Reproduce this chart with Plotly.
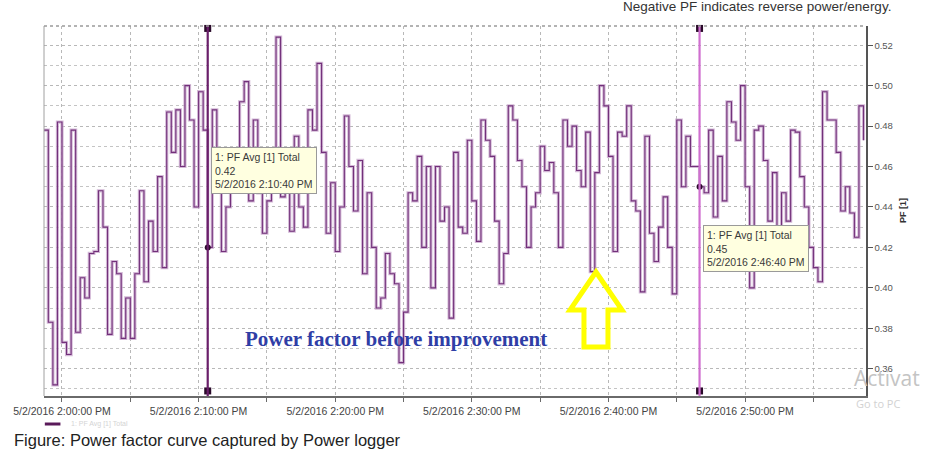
import pandas as pd
import plotly.graph_objects as go

# ---- data (PF Avg [1] Total, 20 s steps from 1:58:40 PM) ----
start_time = "2016-05-02 13:58:40"
step = "20s"
pf_values = [
    0.478, 0.383, 0.352, 0.482,
    0.373, 0.367, 0.478, 0.378, 0.405, 0.395, 0.417, 0.418, 0.448, 0.430,
    0.377, 0.413, 0.407, 0.375, 0.395, 0.375, 0.407, 0.448, 0.403, 0.433,
    0.418, 0.455, 0.410, 0.487, 0.467, 0.488, 0.460, 0.500, 0.483, 0.440,
    0.497, 0.478, 0.420, 0.488, 0.465, 0.418, 0.440, 0.457, 0.462, 0.492,
    0.502, 0.443, 0.483, 0.447, 0.427, 0.443, 0.458, 0.524, 0.445, 0.453,
    0.428, 0.475, 0.440, 0.430, 0.488, 0.478, 0.511, 0.467, 0.427, 0.452,
    0.418, 0.440, 0.485, 0.460, 0.438, 0.463, 0.407, 0.447, 0.420, 0.390,
    0.395, 0.417, 0.407, 0.402, 0.363, 0.388, 0.447, 0.443, 0.465, 0.420,
    0.460, 0.400, 0.460, 0.433, 0.440, 0.385, 0.467, 0.430, 0.427, 0.473,
    0.443, 0.423, 0.483, 0.473, 0.465, 0.433, 0.402, 0.417, 0.490, 0.483,
    0.463, 0.450, 0.420, 0.440, 0.447, 0.470, 0.458, 0.462, 0.447, 0.420,
    0.483, 0.470, 0.480, 0.458, 0.450, 0.477, 0.408, 0.457, 0.500, 0.490,
    0.465, 0.418, 0.477, 0.475, 0.490, 0.443, 0.438, 0.398, 0.475, 0.427,
    0.413, 0.430, 0.445, 0.420, 0.397, 0.483, 0.450, 0.475, 0.460, 0.460,
    0.450, 0.447, 0.478, 0.435, 0.465, 0.443, 0.492, 0.482, 0.473, 0.500,
    0.450, 0.400, 0.478, 0.480, 0.463, 0.433, 0.457, 0.427, 0.447, 0.433,
    0.478, 0.477, 0.455, 0.440, 0.420, 0.410, 0.403, 0.497, 0.483, 0.483,
    0.467, 0.438, 0.450, 0.437, 0.425, 0.490, 0.473,
]
times = pd.date_range(start_time, periods=len(pf_values), freq=step)

x_tick_vals = ["2016-05-02 14:00:00", "2016-05-02 14:05:00", "2016-05-02 14:10:00",
               "2016-05-02 14:15:00", "2016-05-02 14:20:00", "2016-05-02 14:25:00",
               "2016-05-02 14:30:00", "2016-05-02 14:35:00", "2016-05-02 14:40:00",
               "2016-05-02 14:45:00", "2016-05-02 14:50:00", "2016-05-02 14:55:00"]
x_tick_text = ["5/2/2016 2:00:00 PM", "", "5/2/2016 2:10:00 PM", "",
               "5/2/2016 2:20:00 PM", "", "5/2/2016 2:30:00 PM", "",
               "5/2/2016 2:40:00 PM", "", "5/2/2016 2:50:00 PM", ""]
y_tick_vals = [0.36, 0.38, 0.40, 0.42, 0.44, 0.46, 0.48, 0.50, 0.52]
y_tick_text = ["0.36", "0.38", "0.40", "0.42", "0.44", "0.46", "0.48", "0.50", "0.52"]

cursor_times = ["2016-05-02 14:10:40", "2016-05-02 14:46:40"]
cursor_values = [0.42, 0.45]
cursor_labels = ["1: PF Avg [1] Total<br>0.42<br>5/2/2016 2:10:40 PM",
                 "1: PF Avg [1] Total<br>0.45<br>5/2/2016 2:46:40 PM"]
cursor_box_tops = [0.4695, 0.431]
cursor_colors = ["#6a1f6a", "#cf6fcf"]

x_range = ["2016-05-02 13:58:41", "2016-05-02 14:58:51"]
y_range = [0.3465, 0.5295]

FONT = "Liberation Sans, Arial, sans-serif"

fig = go.Figure()

# soft halo + main step line
fig.add_trace(go.Scatter(x=times, y=pf_values, mode="lines",
                         line=dict(shape="hv", color="rgba(200,166,204,0.8)", width=3.2),
                         hoverinfo="skip", showlegend=False))
fig.add_trace(go.Scatter(x=times, y=pf_values, mode="lines",
                         line=dict(shape="hv", color="#72307a", width=1.1),
                         name="1: PF Avg [1] Total", showlegend=False))

shapes = []
annotations = []
for t, v, lab, top, col in zip(cursor_times, cursor_values, cursor_labels, cursor_box_tops, cursor_colors):
    shapes.append(dict(type="line", xref="x", yref="paper", x0=t, x1=t, y0=0, y1=1,
                       line=dict(color=col, width=2.2), layer="above"))
    fig.add_trace(go.Scatter(x=[t, t], y=[y_range[1] - 0.0012, y_range[0] + 0.0025], mode="markers",
                             marker=dict(symbol="square", size=7, color="#2a0a2a"),
                             cliponaxis=False, hoverinfo="skip", showlegend=False))
    fig.add_trace(go.Scatter(x=[t], y=[v], mode="markers",
                             marker=dict(symbol="circle", size=6, color="#2a0a2a"),
                             hoverinfo="skip", showlegend=False))
    annotations.append(dict(xref="x", yref="y", x=t, y=top, xanchor="left", yanchor="top",
                            xshift=3, text=lab, showarrow=False, align="left",
                            font=dict(family=FONT, size=10.5, color="#3a3a3a"),
                            bgcolor="#ffffe0", bordercolor="#9a9a9a", borderwidth=1, borderpad=3))

# plot frame pieces
shapes.append(dict(type="line", xref="paper", yref="paper", x0=0, x1=0, y0=0, y1=1,
                   line=dict(color="#a0a0a0", width=1)))
shapes.append(dict(type="line", xref="paper", yref="paper", x0=0, x1=1, y0=1, y1=1,
                   line=dict(color="#9a9a9a", width=1.5, dash="dot")))

# yellow outline arrow
shapes.append(dict(type="path", xref="paper", yref="paper",
                   path="M 0.6715 0.3351 L 0.7032 0.2324 L 0.6861 0.2324 L 0.6861 0.1324 "
                        "L 0.6569 0.1324 L 0.6569 0.2324 L 0.6399 0.2324 Z",
                   line=dict(color="#ffff00", width=5), fillcolor="rgba(0,0,0,0)", layer="above"))

# legend swatch
shapes.append(dict(type="line", xref="paper", yref="paper", x0=0.001, x1=0.02, y0=-0.0757, y1=-0.0757,
                   line=dict(color="#5a1a5a", width=3)))

annotations += [
    dict(xref="paper", yref="paper", x=0.03, y=-0.0757, xanchor="left", yanchor="middle",
         text="1: PF Avg [1] Total", showarrow=False,
         font=dict(family=FONT, size=7, color="#d4d4d4")),
    dict(xref="paper", yref="paper", x=0.428, y=0.154, xanchor="center", yanchor="middle",
         text="<b>Power factor before improvement</b>", showarrow=False,
         font=dict(family="Liberation Serif, Times New Roman, serif", size=21, color="#2f3ea6")),
    dict(xref="paper", yref="paper", x=1.0328, y=1.053, xanchor="right", yanchor="middle",
         text="Negative PF indicates reverse power/energy.", showarrow=False,
         font=dict(family=FONT, size=13.5, color="#333333")),
    dict(xref="paper", yref="paper", x=1.045, y=0.503, xanchor="center", yanchor="middle",
         text="<b>PF [1]</b>", textangle=-90, showarrow=False,
         font=dict(family=FONT, size=9, color="#333333")),
    dict(xref="paper", yref="paper", x=-0.039, y=-0.119, xanchor="left", yanchor="middle",
         text="Figure: Power factor curve captured by Power logger", showarrow=False,
         font=dict(family=FONT, size=16.5, color="#222222")),
    dict(xref="paper", yref="paper", x=0.983, y=0.049, xanchor="left", yanchor="middle",
         text="Activat", showarrow=False,
         font=dict(family="Open Sans, sans-serif", size=21, color="#c4c4c4")),
    dict(xref="paper", yref="paper", x=0.985, y=-0.019, xanchor="left", yanchor="middle",
         text="Go to PC", showarrow=False,
         font=dict(family="Open Sans, sans-serif", size=11, color="#d2d2d2")),
]

fig.update_layout(
    width=927, height=457,
    margin=dict(l=44, r=61, t=26, b=61),
    paper_bgcolor="white", plot_bgcolor="white",
    showlegend=False,
    shapes=shapes, annotations=annotations,
    xaxis=dict(type="date", range=x_range, tickmode="array",
               tickvals=x_tick_vals, ticktext=x_tick_text,
               showgrid=True, gridcolor="#b8b8b8", griddash="dot", gridwidth=1,
               showline=True, linecolor="#6a6a6a", linewidth=2,
               ticks="outside", ticklen=4, tickcolor="#6a6a6a",
               tickfont=dict(family=FONT, size=10.5, color="#444444"),
               zeroline=False, fixedrange=True),
    yaxis=dict(side="right", range=y_range, tickmode="array",
               tickvals=y_tick_vals, ticktext=y_tick_text,
               showgrid=True, gridcolor="#b8b8b8", griddash="dot", gridwidth=1,
               minor=dict(tickmode="linear", tick0=0.35, dtick=0.01, showgrid=True,
                          gridcolor="#c4c4c4", griddash="dot", gridwidth=1),
               showline=True, linecolor="#555555", linewidth=1.5,
               ticks="outside", ticklen=5, tickcolor="#555555",
               tickfont=dict(family=FONT, size=9.5, color="#555555"),
               zeroline=False, fixedrange=True),
)

fig.write_html("out.html", config={"displayModeBar": False, "staticPlot": True},
               post_script="document.body.style.margin='0';document.body.style.overflow='hidden';")
